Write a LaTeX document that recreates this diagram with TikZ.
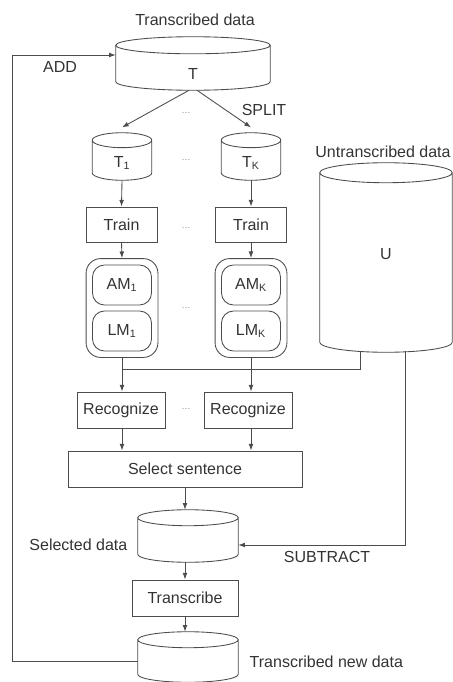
\documentclass[tikz,border=0pt]{standalone}
\usepackage{fontspec}
\setmainfont{Liberation Sans}
\usetikzlibrary{calc,arrows.meta,fit,positioning}
% outline of a data drum round node #1, cap half height #2 (pt)
\newcommand\drum[2]{%
  \draw [line] let \p1=(#1.north west), \p2=(#1.south east), \n1={(\x2-\x1)/2} in
    (\x1+\n1,\y1-#2pt) ellipse [x radius=\n1, y radius=#2pt]
    (\x1,\y1-#2pt) -- (\x1,\y2+#2pt)
    arc [start angle=180, end angle=360, x radius=\n1, y radius=#2pt] -- (\x2,\y1-#2pt);}
\begin{document}
\begin{tikzpicture}[x=0.75pt,y=-0.75pt,>={Latex[length=5pt,width=3.6pt]}]
  \tikzstyle{every node}=[text=black!80,font=\fontsize{12}{14}\selectfont]
  \tikzstyle{db}=[rectangle,inner sep=0pt]
  \tikzstyle{box}=[rectangle,draw=black!70,line width=0.65pt,minimum height=27pt]
  \tikzstyle{model}=[rectangle,rounded corners=9pt,draw=black!70,line width=0.65pt,minimum width=44.25pt,minimum height=30pt]
  \tikzstyle{gap}=[text=black!45,font=\scriptsize]
  \tikzstyle{line}=[draw=black!70,line width=0.65pt]
  \useasboundingbox (0,0) rectangle (453,682);

  % data sets
  \node [db,minimum width=115.5pt,minimum height=39.75pt,text height=24pt] (T) at (193,63.5) {T};
  \node (Tname) at (195,20) {Transcribed data};
  \node [db,minimum width=44.25pt,minimum height=35.25pt,text height=18pt] (T1) at (122,156.5) {T\textsubscript{1}};
  \node [db,minimum width=44.25pt,minimum height=35.25pt,text height=18pt] (TK) at (251,156.5) {T\textsubscript{K}};
  \node [db,minimum width=99pt,minimum height=141.75pt,text depth=6pt] (U) at (386,257.5) {U};
  \node (Uname) at (383,152) {Untranscribed data};

  % training
  \node [box,minimum width=53.25pt,minimum height=26.25pt] (Tr1) at (121.5,224.5) {Train};
  \node [box,minimum width=53.25pt,minimum height=26.25pt] (TrK) at (251,224.5) {Train};
  \node [model] (AM1) at (122,285) {AM\textsubscript{1}};
  \node [model] (LM1) at (122,331) {LM\textsubscript{1}};
  \node [model] (AMK) at (251,285) {AM\textsubscript{K}};
  \node [model] (LMK) at (251,331) {LM\textsubscript{K}};
  \node [draw=black!70,line width=0.65pt,rounded corners=11pt,inner sep=4.5pt,fit=(AM1)(LM1)] (M1) {};
  \node [draw=black!70,line width=0.65pt,rounded corners=11pt,inner sep=4.5pt,fit=(AMK)(LMK)] (MK) {};

  % recognition and selection
  \node [box,minimum width=66pt] (R1) at (121,410) {Recognize};
  \node [box,minimum width=66pt] (RK) at (248,410) {Recognize};
  \node [box,minimum width=175.5pt] (Sel) at (185,469) {Select sentence};
  \node [db,minimum width=75pt,minimum height=39pt] (S) at (188,536) {};
  \node [anchor=east] (Sname) at (132,545) {Selected data};
  \node [box,minimum width=79.5pt] (Tc) at (185,598) {Transcribe};
  \node [db,minimum width=75pt,minimum height=37.5pt] (N) at (188,657) {};
  \node [anchor=west] (Nname) at (245,662) {Transcribed new data};

  \drum{T}{6.4}
  \drum{T1}{5.6}
  \drum{TK}{5.6}
  \drum{U}{7.5}
  \drum{S}{6}
  \drum{N}{6}

  % labels and gaps
  \node (add) at (60,67) {ADD};
  \node (split) at (264,110) {SPLIT};
  \node (sub) at (327,557) {SUBTRACT};
  \node [gap] (g1) at (186,113) {\dots};
  \node [gap] (g2) at (186,160) {\dots};
  \node [gap] (g3) at (186,228) {\dots};
  \node [gap] (g4) at (186,308) {\dots};
  \node [gap] (g5) at (186,409) {\dots};

  \coordinate (bus) at (0,369);
  \coordinate (loop) at (12,55);

  \draw [line,->] ([xshift=-3pt]T.south) -- ([yshift=4pt]T1.north);
  \draw [line,->] ([xshift=3pt]T.south) -- ([yshift=4pt]TK.north);
  \draw [line,->] (T1.south) -- (Tr1.north);
  \draw [line,->] (TK.south) -- (TrK.north);
  \draw [line,->] (Tr1.south) -- (M1.north);
  \draw [line,->] (TrK.south) -- (MK.north);
  \draw [line] (M1.south) -- (M1.south |- bus) -- ([xshift=-19.5pt]U.south |- bus) -- ([xshift=-19.5pt,yshift=1pt]U.south);
  \draw [line] (MK.south) -- (MK.south |- bus);
  \draw [line,->] (M1.south |- bus) -- (M1.south |- R1.north);
  \draw [line,->] (MK.south |- bus) -- (MK.south |- RK.north);
  \draw [line,->] (M1.south |- R1.south) -- (M1.south |- Sel.north);
  \draw [line,->] (MK.south |- RK.south) -- (MK.south |- Sel.north);
  \draw [line,->] (Sel.south) -- (Sel.south |- S.north);
  \draw [line,->] (Sel.south |- S.south) -- (Tc.north);
  \draw [line,->] (Tc.south) -- (Tc.south |- N.north);
  \draw [line,->] ([xshift=14.25pt,yshift=1pt]U.south) |- ([yshift=-6.75pt]S.east);
  \draw [line,->] ([yshift=-3pt]N.west) -| (loop) -- (loop -| T.west);
\end{tikzpicture}
\end{document}
